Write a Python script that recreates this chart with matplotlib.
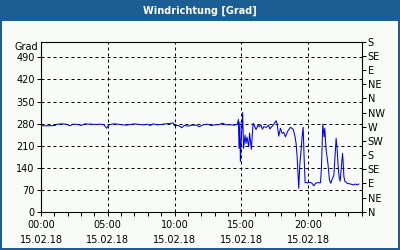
import matplotlib
matplotlib.use("Agg")
import matplotlib.pyplot as plt
from matplotlib.patches import Rectangle

# Windrichtung am 15.02.18, Stunden seit 00:00 und Grad
hours = [0.0, 0.15, 0.68, 1.05, 1.2, 1.58, 1.88, 2.18, 2.4, 2.78, 3.0, 3.3,
         3.68, 4.13, 4.43, 4.73, 4.91, 5.1, 5.4, 5.78, 6.08, 6.38, 6.68, 7.05,
         7.35, 7.73, 7.95, 8.18, 8.4, 8.7, 9.0, 9.3, 9.6, 9.9, 10.0, 10.28,
         10.54, 10.73, 11.03, 11.33, 11.63, 11.85, 12.15, 12.45, 12.75, 13.05,
         13.35, 13.58, 13.88, 14.18, 14.48, 14.7, 14.78, 14.83, 14.89, 14.93,
         15.0, 15.1, 15.17, 15.28, 15.35, 15.43, 15.55, 15.62, 15.75, 15.88,
         15.93, 16.1, 16.25, 16.35, 16.48, 16.58, 16.68, 16.88, 17.05, 17.13,
         17.3, 17.43, 17.6, 17.68, 17.8, 17.93, 18.05, 18.18, 18.3, 18.48,
         18.68, 18.88, 19.0, 19.1, 19.18, 19.3, 19.38, 19.48, 19.55, 19.63,
         19.7, 19.78, 19.97, 20.18, 20.3, 20.43, 20.55, 20.68, 20.93, 21.0,
         21.1, 21.2, 21.25, 21.35, 21.48, 21.6, 21.7, 21.8, 21.93, 22.0, 22.1,
         22.18, 22.25, 22.33, 22.4, 22.5, 22.58, 22.63, 22.68, 22.75, 22.93,
         23.18, 23.38, 23.55, 23.68, 23.8]
grad = [282, 273, 273, 274, 278, 279, 278, 273, 278, 277, 274, 279,
        278, 277, 278, 276, 265, 276, 279, 278, 276, 275, 277, 279,
        277, 276, 278, 274, 279, 276, 277, 279, 280, 282, 273, 274,
        267, 274, 272, 275, 275, 270, 276, 278, 274, 276,
        277, 281, 276, 276, 275, 277, 293, 201, 285, 159,
        230, 315, 201, 243, 217, 237, 206, 250, 198, 280,
        278, 261, 275, 270, 275, 262, 270, 268, 275, 263,
        271, 278, 289, 280, 240, 265, 249, 252, 238, 256,
        268, 262, 243, 218, 175, 74, 150, 196, 238, 268,
        175, 92, 92, 93, 90, 82, 90, 92, 92, 138,
        278, 238, 265, 196, 155, 101, 90, 103, 116, 164, 233,
        196, 145, 108, 97, 145, 185, 155, 112, 97, 90,
        88, 85, 88, 85, 88]

left_ticks = [0, 70, 140, 210, 280, 350, 420, 490]
right_ticks = [0, 45, 90, 135, 180, 225, 270, 315, 360, 405, 450, 495, 540]
right_labels = ["N", "NE", "E", "SE", "S", "SW", "W", "NW", "N", "NE", "E", "SE", "S"]
x_ticks = [0, 5, 10, 15, 20]
x_labels = ["00:00\n15.02.18", "05:00\n15.02.18", "10:00\n15.02.18",
            "15:00\n15.02.18", "20:00\n15.02.18"]

blue = "#1B5E93"
bg = "#F9FBF9"
fs = 7

fig = plt.figure(figsize=(4, 2.5), dpi=100, facecolor=bg)

# Titelleiste und Rahmen
fig.patches.append(Rectangle((0, 1 - 21 / 250), 1, 21 / 250, transform=fig.transFigure,
                             facecolor=blue, edgecolor="none", zorder=0))
for rect in [(0, 0, 2 / 400, 1), (1 - 2 / 400, 0, 2 / 400, 1), (0, 0, 1, 2 / 250)]:
    fig.patches.append(Rectangle(rect[:2], rect[2], rect[3], transform=fig.transFigure,
                                 facecolor=blue, edgecolor="none", zorder=0))
fig.text(0.5, 1 - 10.5 / 250, "Windrichtung [Grad]", color="white", fontsize=7,
         fontweight="bold", ha="center", va="center")

ax = fig.add_axes([41 / 400, 1 - 211.7 / 250, 320.5 / 400, 170 / 250])
ax.set_facecolor(bg)
ax.plot(hours, grad, color="#0000F0", lw=0.75)
ax.set_xlim(0, 24)
ax.set_ylim(0, 540)

ax.set_xticks(x_ticks)
ax.set_xticklabels(x_labels, fontsize=fs, linespacing=1.6)
ax.set_xticks(range(25), minor=True)
ax.set_yticks(left_ticks)
ax.set_yticklabels([str(v) for v in left_ticks], fontsize=fs)
ax.tick_params(axis="both", which="both", direction="out", length=3, width=0.72,
               pad=1.5, colors="black")
ax.tick_params(axis="x", which="major", pad=3)

for v in left_ticks[1:]:
    ax.axhline(v, color="black", lw=0.72, ls=(0, (3, 3)), zorder=1)
for h in x_ticks[1:]:
    ax.axvline(h, color="black", lw=0.72, ls=(0, (3, 3)), zorder=1)

for s in ax.spines.values():
    s.set_linewidth(0.72)

ax2 = ax.twinx()
ax2.set_ylim(0, 540)
ax2.set_yticks(right_ticks)
ax2.set_yticklabels(right_labels, fontsize=fs)
ax2.tick_params(axis="y", direction="out", length=3, width=0.72, pad=1.5)

fig.text(14 / 400, 1 - 46.5 / 250, "Grad", fontsize=fs, ha="left", va="center")

fig.savefig("out.png", dpi=100, facecolor=bg)
